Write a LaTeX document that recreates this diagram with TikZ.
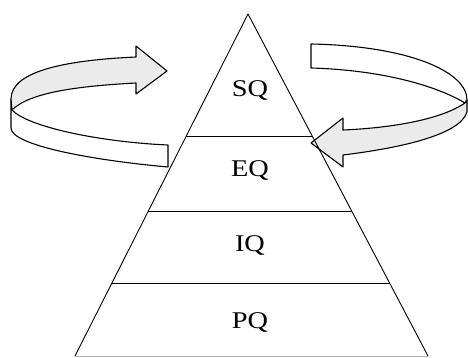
\documentclass[tikz,border=0pt]{standalone}
\usepackage{fontspec}
\setmainfont{Liberation Serif}
\usetikzlibrary{calc}
\definecolor{bandgray}{gray}{0.92}
\begin{document}
\begin{tikzpicture}[x=1pt,y=-1pt,line join=round,
    ring/.style={draw=black,line width=1.1pt},
    layer/.style={anchor=base,font=\fontsize{24}{28}\selectfont}]

    % Canvas
    \useasboundingbox (0,0) rectangle (468,358);

    % Pyramid corners
    \coordinate (apex) at (248,14);
    \coordinate (bl) at (75,356);
    \coordinate (br) at (428,356);

    % Left ribbon (front face, then inner face with head)
    \filldraw[ring,fill=white] (12,110) .. controls (28,127) and (100,142) .. (168,145)
        -- (168,167) .. controls (90,160) and (11,145) .. (11,128) -- (11,99) -- cycle;
    \filldraw[ring,fill=bandgray] (11,99) .. controls (11,70) and (70,60) .. (136,57)
        -- (136,46) -- (167,71) -- (136,94) -- (136,83)
        .. controls (80,86) and (30,92) .. (12,110) -- cycle;

    % Right ribbon (tail face, then inner face with head)
    \filldraw[ring,fill=white] (311,44) .. controls (410,46) and (467,72) .. (467,100)
        -- (465,103) .. controls (435,85) and (380,70) .. (311,68) -- cycle;
    \filldraw[ring,fill=bandgray] (465,103) .. controls (440,120) and (390,128) .. (343,130)
        -- (343,118) -- (311,143) -- (343,167) -- (343,155)
        .. controls (400,148) and (460,135) .. (467,112) -- (467,100) -- cycle;

    % Pyramid and layers
    \draw[line width=0.9pt] (bl) -- (apex) -- (br);
    \draw[gray!60,line width=0.8pt] (bl) -- (br);
    \foreach \f in {0.357,0.576,0.789} {
        \draw[line width=0.9pt] ($(apex)!\f!(bl)$) -- ($(apex)!\f!(br)$);
    }

    % Layer labels
    \foreach \name/\txt/\y in {sq/SQ/97, eq/EQ/176, iq/IQ/251, pq/PQ/328} {
        \node[layer] (\name) at (250,\y) {\scalebox{1.18}[1]{\txt}};
    }

\end{tikzpicture}
\end{document}
